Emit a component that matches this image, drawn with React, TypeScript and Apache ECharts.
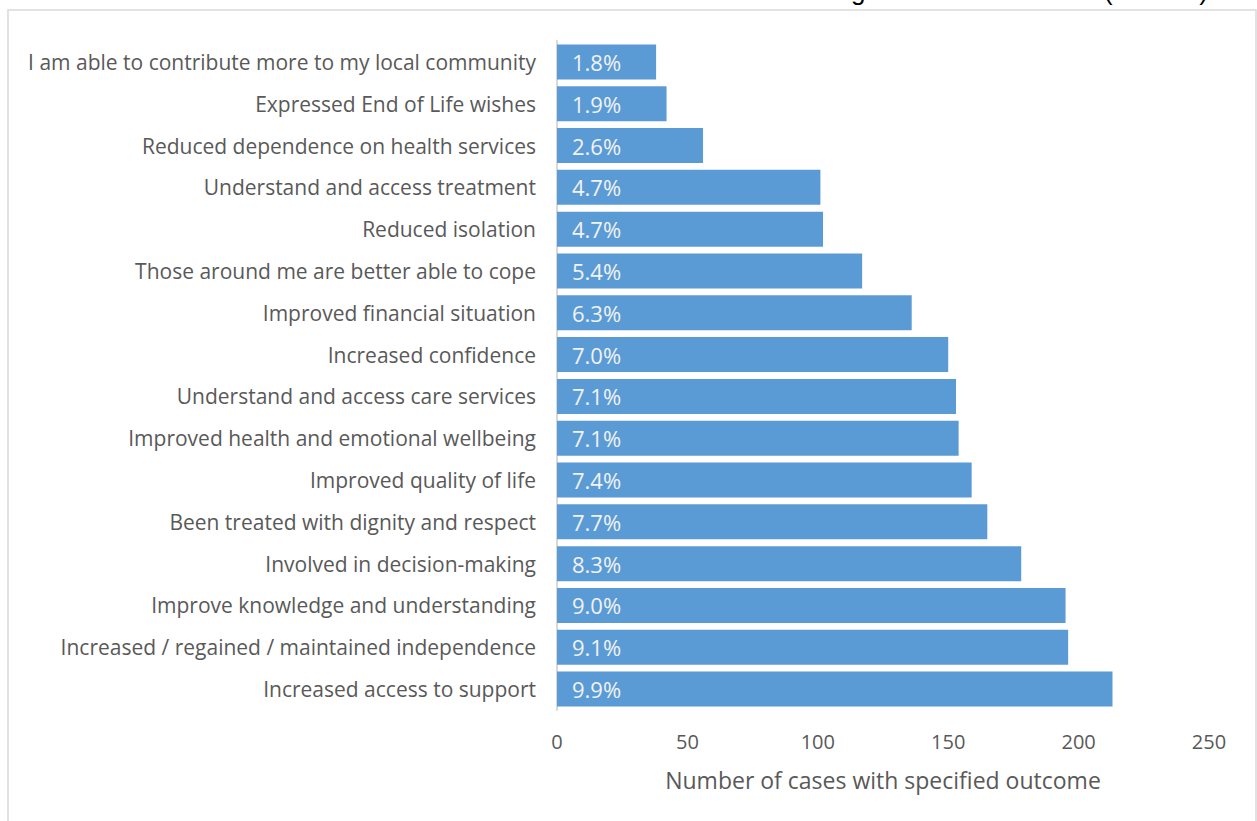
import React, { useEffect, useRef } from "react";
import * as echarts from "echarts";

const categories = [
  "I am able to contribute more to my local community",
  "Expressed End of Life wishes",
  "Reduced dependence on health services",
  "Understand and access treatment",
  "Reduced isolation",
  "Those around me are better able to cope",
  "Improved financial situation",
  "Increased confidence",
  "Understand and access care services",
  "Improved health and emotional wellbeing",
  "Improved quality of life",
  "Been treated with dignity and respect",
  "Involved in decision-making",
  "Improve knowledge and understanding",
  "Increased / regained / maintained independence",
  "Increased access to support",
];
const values = [38, 42, 56, 101, 102, 117, 136, 150, 153, 154, 159, 165, 178, 195, 196, 213];
const percentLabels = ["1.8%", "1.9%", "2.6%", "4.7%", "4.7%", "5.4%", "6.3%", "7.0%", "7.1%", "7.1%", "7.4%", "7.7%", "8.3%", "9.0%", "9.1%", "9.9%"];
const xTicks = { min: 0, max: 250, interval: 50 };
const title = "Fig 14: Case outcomes (all sites)";
const xName = "Number of cases with specified outcome";

const FONT = "'Open Sans', sans-serif";

export default function App() {
  const ref = useRef<HTMLDivElement>(null);
  useEffect(() => {
    if (!ref.current) return;
    const chart = echarts.init(ref.current, undefined, { renderer: "svg" });
    chart.setOption({
      animation: false,
      backgroundColor: "#ffffff",
      textStyle: { fontFamily: FONT },
      grid: { left: 557, right: 48, top: 41, bottom: 111, containLabel: false },
      graphic: [
        {
          type: "rect",
          shape: { x: 8, y: 10, width: 1248, height: 830 },
          style: { fill: "none", stroke: "#d9d9d9", lineWidth: 1.5 },
          silent: true,
        },
        {
          type: "text",
          x: 1208,
          y: -9,
          style: {
            text: title,
            font: "26px 'Liberation Sans', Arial, sans-serif",
            fill: "#000000",
            textAlign: "right",
            textVerticalAlign: "middle",
          },
          silent: true,
        },
      ],
      xAxis: {
        type: "value",
        min: xTicks.min,
        max: xTicks.max,
        interval: xTicks.interval,
        axisLine: { show: false },
        axisTick: { show: false },
        splitLine: { show: false },
        axisLabel: { color: "#595959", fontSize: 20, margin: 21, fontFamily: FONT },
        name: xName,
        nameLocation: "middle",
        nameGap: 58,
        nameTextStyle: { color: "#595959", fontSize: 23, fontFamily: FONT },
      },
      yAxis: {
        type: "category",
        data: categories,
        inverse: true,
        axisLine: { show: true, lineStyle: { color: "#d9d9d9", width: 2 } },
        axisTick: { show: false },
        axisLabel: { color: "#595959", fontSize: 21, margin: 21, fontFamily: FONT },
      },
      series: [
        {
          type: "bar",
          data: values,
          barWidth: 35,
          itemStyle: { color: "#5b9bd5" },
          label: {
            show: true,
            position: "insideLeft",
            distance: 15,
            color: "#f2f2f2",
            fontSize: 22,
            fontFamily: FONT,
            formatter: (p: any) => percentLabels[p.dataIndex],
          },
        },
      ],
    });
    return () => chart.dispose();
  }, []);
  return (
    <div
      ref={ref}
      style={{ position: "fixed", left: 0, top: 0, width: 1257, height: 821 }}
    />
  );
}
